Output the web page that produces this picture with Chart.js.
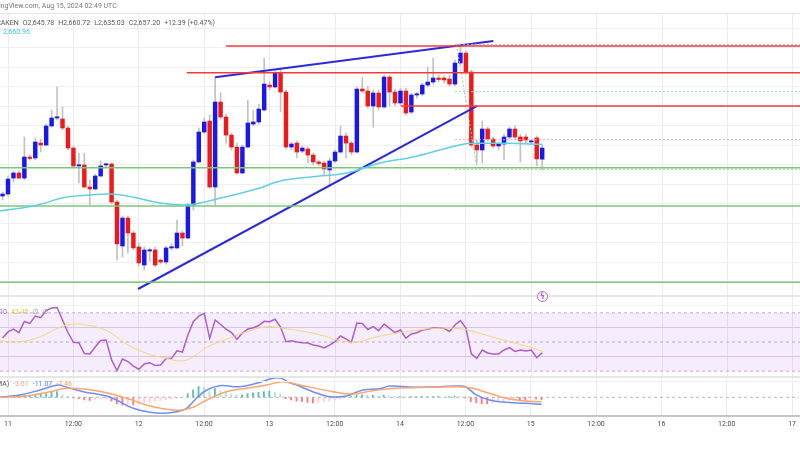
<!DOCTYPE html>
<html>
<head>
<meta charset="utf-8">
<script src="https://cdn.jsdelivr.net/npm/chart.js@4.4.1/dist/chart.umd.min.js"></script>
<style>
  body { margin: 0; background: #fff; }
  #wrap { position: relative; width: 800px; height: 450px; overflow: hidden; background: #fff; font-family: Roboto, "DejaVu Sans", sans-serif; }
  canvas { position: absolute; left: 0; }
  .txt { position: absolute; font-size: 7px; line-height: 7px; white-space: nowrap; color: #555; }
  .txt span { margin-right: 4px; }
  .sep { position: absolute; left: 0; width: 800px; background: #e6e6e6; }
  #bolt { position: absolute; left: 537px; top: 291px; width: 9px; height: 9px; border: 1.4px solid #b563cc; border-radius: 50%; color: #b563cc; font-size: 8px; line-height: 9px; text-align: center; font-weight: bold; background: #fff; }
</style>
</head>
<body>
<div id="wrap">
  <canvas id="price" width="800" height="282" style="top:13px"></canvas>
  <canvas id="rsi" width="800" height="81" style="top:296px"></canvas>
  <canvas id="macd" width="800" height="55" style="top:377px"></canvas>

  <div class="sep" style="top:13px;height:1px"></div>
  <div class="sep" style="top:295px;height:2px"></div>
  <div class="sep" style="top:305px;height:1px;background:#efefef"></div>
  <div class="sep" style="top:376px;height:2px"></div>
  <div class="sep" style="top:381px;height:1px;background:#efefef"></div>

  <div class="txt" style="left:-15px;top:3px;color:#777">TradingView.com, Aug 15, 2024 02:49 UTC</div>
  <div class="txt" style="left:-8px;top:20px"><span>KRAKEN</span><span>O2,645.78</span><span>H2,660.72</span><span>L2,635.03</span><span>C2,657.20</span><span>+12.39 (+0.47%)</span></div>
  <div class="txt" style="left:3px;top:29px;color:#3fc3d6">2,660.96</div>
  <div class="txt" style="left:-1px;top:309px"><span style="color:#b05ec6">10</span><span style="color:#e6c34a">42.45</span><span style="color:#999">∅</span><span style="color:#999">∅</span></div>
  <div class="txt" style="left:-8px;top:381px"><span>EMA)</span><span style="color:#f59a9a">-3.61</span><span style="color:#5a7ff0">-11.07</span><span style="color:#ff9a5c">-7.46</span></div>
  <div id="bolt">ϟ</div>
</div>

<script>
// ETH/USD 1h, Kraken -- hours counted from Aug 11 00:00
const firstHour = -1;
const xMin = -1.47, xMax = 145.3;

const opens = [2608.0, 2610.0, 2626.4, 2631.6, 2626.4, 2648.0, 2647.0, 2662.3, 2660.3, 2679.8,
  2688.0, 2687.0, 2677.7, 2657.2, 2638.8, 2639.8, 2617.2, 2615.2, 2628.5, 2639.8,
  2640.8, 2601.8, 2556.7, 2585.4, 2570.0, 2555.7, 2537.2, 2551.6, 2552.6, 2542.3,
  2540.3, 2554.7, 2554.7, 2570.0, 2564.9, 2598.8, 2642.9, 2673.6, 2684.9, 2617.2,
  2704.4, 2689.0, 2670.5, 2658.2, 2631.6, 2658.2, 2681.8, 2683.9, 2696.2, 2721.8,
  2719.8, 2734.1, 2714.6, 2658.2, 2662.3, 2654.1, 2656.2, 2650.0, 2642.9, 2641.8,
  2634.7, 2643.9, 2653.1, 2669.5, 2662.3, 2653.1, 2717.7, 2715.7, 2700.3, 2713.6,
  2699.3, 2730.0, 2714.6, 2703.4, 2715.7, 2694.1, 2711.6, 2712.6, 2721.8, 2724.9,
  2729.0, 2729.0, 2728.0, 2722.8, 2744.4, 2754.6, 2735.2, 2660.3, 2655.2, 2676.7,
  2666.4, 2659.3, 2661.3, 2668.5, 2676.7, 2668.5, 2668.5, 2663.4, 2667.5, 2645.78];
const highs = [2612.1, 2628.5, 2633.6, 2633.6, 2668.5, 2650.0, 2667.5, 2666.4, 2681.8, 2696.2,
  2719.8, 2699.3, 2679.8, 2659.3, 2652.1, 2652.1, 2624.4, 2630.5, 2643.9, 2641.8,
  2641.8, 2603.9, 2587.5, 2587.5, 2572.1, 2559.8, 2555.7, 2554.7, 2555.7, 2543.4,
  2556.7, 2558.8, 2583.4, 2572.1, 2600.8, 2644.9, 2677.7, 2688.0, 2691.1, 2730.0,
  2713.6, 2692.1, 2672.6, 2662.3, 2660.3, 2706.4, 2696.2, 2702.3, 2749.5, 2724.9,
  2736.2, 2739.3, 2716.7, 2663.4, 2664.4, 2659.3, 2658.2, 2652.1, 2644.9, 2643.9,
  2647.0, 2655.2, 2679.8, 2672.6, 2664.4, 2719.8, 2730.0, 2720.8, 2716.7, 2716.7,
  2732.1, 2732.1, 2717.7, 2718.7, 2718.7, 2713.6, 2714.6, 2723.9, 2740.3, 2749.5,
  2732.1, 2731.1, 2732.1, 2747.5, 2763.9, 2756.7, 2737.2, 2665.4, 2684.9, 2678.7,
  2668.5, 2663.4, 2671.6, 2678.7, 2679.8, 2671.6, 2671.6, 2666.4, 2669.5, 2660.72];
const lows = [2603.9, 2608.0, 2622.3, 2625.4, 2624.4, 2644.9, 2644.9, 2653.1, 2659.3, 2678.7,
  2685.9, 2675.7, 2655.2, 2637.7, 2621.3, 2616.2, 2598.8, 2614.1, 2627.5, 2637.7,
  2599.8, 2542.3, 2545.4, 2549.5, 2552.6, 2536.2, 2532.1, 2541.3, 2535.2, 2538.2,
  2538.2, 2552.6, 2553.6, 2556.7, 2563.9, 2593.6, 2641.8, 2672.6, 2616.2, 2597.7,
  2687.0, 2662.3, 2655.2, 2630.5, 2630.5, 2657.2, 2679.8, 2681.8, 2695.2, 2716.7,
  2718.7, 2694.1, 2656.2, 2655.2, 2647.0, 2652.1, 2641.8, 2639.8, 2638.8, 2629.5,
  2618.2, 2641.8, 2652.1, 2647.0, 2650.0, 2652.1, 2713.6, 2698.2, 2678.7, 2696.2,
  2698.2, 2700.3, 2700.3, 2701.3, 2691.1, 2692.1, 2708.5, 2710.5, 2719.8, 2722.8,
  2724.9, 2723.9, 2720.8, 2720.8, 2742.3, 2733.1, 2658.2, 2641.8, 2641.8, 2664.4,
  2657.2, 2655.2, 2644.9, 2666.4, 2666.4, 2642.9, 2662.3, 2662.3, 2638.8, 2635.03];
const closes = [2610.0, 2625.4, 2631.6, 2626.4, 2648.0, 2646.5, 2663.4, 2660.3, 2679.8, 2688.0,
  2688.5, 2677.7, 2657.2, 2638.8, 2639.8, 2617.2, 2615.2, 2628.5, 2638.8, 2640.8,
  2601.8, 2558.8, 2585.4, 2570.0, 2554.7, 2539.3, 2552.6, 2552.6, 2537.2, 2540.3,
  2554.7, 2555.7, 2570.0, 2564.9, 2598.8, 2642.9, 2673.6, 2683.9, 2617.2, 2704.4,
  2689.0, 2670.5, 2658.2, 2631.6, 2658.2, 2682.9, 2683.9, 2697.2, 2722.8, 2719.8,
  2734.1, 2714.6, 2658.2, 2661.3, 2653.1, 2657.2, 2650.0, 2642.9, 2641.3, 2635.7,
  2643.9, 2653.1, 2669.5, 2662.3, 2653.1, 2717.7, 2715.7, 2700.3, 2713.6, 2699.3,
  2730.0, 2714.6, 2703.4, 2715.7, 2693.1, 2711.6, 2712.6, 2721.8, 2724.9, 2729.0,
  2727.5, 2727.0, 2722.8, 2744.4, 2754.6, 2735.2, 2660.3, 2655.2, 2676.7, 2666.4,
  2659.3, 2661.3, 2668.5, 2676.7, 2668.5, 2664.4, 2665.4, 2664.4, 2646.0, 2657.20];

// moving average on the price pane
const maHours = [-1.5, 4.6, 10.8, 15.0, 18.7, 22.9, 27.9, 32.1, 35.2, 38.3, 41.3, 46.2, 49.9, 56.0, 62.2, 68.3, 74.3, 80.6, 84.2, 86.6, 91.5, 98];
const maValues = [2592.6, 2597.7, 2606.9, 2609.0, 2610.0, 2606.9, 2600.8, 2598.8, 2600.8, 2604.9, 2609.0, 2616.2, 2623.4, 2627.8, 2631.6, 2641.8, 2648.0, 2657.2, 2661.8, 2662.0, 2662.0, 2661.0];

// drawings
const supportLevels = [2637.0, 2597.7, 2519.5];
const resistanceLevels = [2761.8, 2734.4, 2700.3];
const resistanceStart = [40.0, 32.8, 72.05];
const lowerTrend = [[23.85, 2512.6], [86.0, 2700.3]];
const upperTrend = [[38.0, 2729.7], [89.05, 2767.0]];
const fibLevels = [2763.6, 2715.0, 2665.7, 2635.4];
const fibStart = 82;
const fibDiagonal = [[82.3, 2762.8], [86.0, 2638.0]];

// RSI pane
const rsi = [52.7, 56.9, 58.9, 56.4, 64.1, 62.8, 67.8, 66.7, 71.6, 73.3,
  73.7, 65.1, 56.5, 49.8, 49.5, 42.1, 41.8, 46.6, 51.0, 51.4,
  37.7, 30.4, 38.3, 36.6, 33.5, 31.3, 34.9, 35.8, 33.9, 34.2,
  38.7, 38.8, 44.0, 43.1, 54.8, 63.9, 67.8, 69.7, 52.5, 65.1,
  62.0, 58.9, 56.5, 51.9, 56.2, 58.9, 59.8, 61.3, 64.2, 63.9,
  65.6, 60.3, 50.2, 50.8, 50.0, 49.5, 49.3, 47.9, 47.3, 45.9,
  47.9, 50.3, 54.1, 52.1, 49.8, 63.0, 62.7, 58.6, 60.5, 57.8,
  62.3, 59.3, 56.5, 58.2, 52.7, 55.5, 56.4, 58.2, 58.7, 59.6,
  59.6, 59.3, 57.2, 61.7, 64.7, 59.6, 41.8, 38.8, 44.5, 42.5,
  41.8, 41.8, 44.5, 46.1, 43.5, 44.5, 43.8, 44.5, 39.2, 42.5];
const rsiMaHours = [-1.5, 2.2, 5.9, 9.5, 12, 14.4, 18.1, 21.8, 25.4, 29.1, 31.9, 34, 36.5, 40.1, 43.8, 47.5, 50.5, 56, 63.1, 68.3, 74.4, 79.3, 83.5, 89.7, 95.8, 98.2];
const rsiMaValues = [50.7, 50.2, 53.6, 60.1, 62.3, 61.7, 57.8, 48.6, 42.2, 38.8, 37.0, 39.9, 46.4, 51.9, 57.1, 60.5, 59.4, 56.0, 49.8, 54.1, 57.8, 59.4, 58.7, 52.5, 46.4, 43.3];
const rsiBand = [70, 30];
const rsiMid = 50;

// MACD pane
const macdHours = [-1.5, 2.2, 5.9, 9.2, 10.8, 13.8, 18.1, 19.9, 23, 26.1, 28.5, 31, 32.8, 34.6, 36.5, 38.9, 42.6, 45.6, 48.7, 50.2, 51.7, 53, 56, 59.1, 62.1, 65.2, 68.3, 70.1, 74.4, 79.3, 82.9, 84.2, 86, 88.4, 91.5, 95.2, 98];
const macdValues = [0, 3.7, 11.6, 19.5, 15.9, 8.9, 2.1, -4.3, -17.5, -23.8, -25.4, -22.9, -17.5, -1.6, 11.6, 18.4, 16.8, 22.2, 30.2, 30.2, 23.2, 19.5, 8.9, 1.0, 2.1, 11.6, 13.7, 17.9, 15.9, 16.8, 17.9, 15.9, 3.7, -4.3, -7.9, -9.5, -11.07];
const signalHours = [-1.5, 3.4, 7.7, 10.8, 14.4, 18.1, 21.8, 25.4, 29.1, 31.9, 34, 36.5, 40.1, 43.8, 47.5, 50.5, 53.6, 59.7, 63.4, 67, 71.3, 77.4, 82.9, 85.4, 88.4, 91.5, 94.6, 98];
const signalValues = [0, 2.1, 8.9, 14.3, 12.7, 7.3, -1.6, -12.2, -19.0, -20.2, -15.9, -4.3, 8.9, 14.3, 19.5, 24.8, 19.5, 8.9, 5.2, 10.5, 14.3, 15.9, 16.8, 14.3, 6.3, -1.6, -5.4, -7.46];
const histogram = [0.5, 1, 1.5, 2, 3, 3.5, 4, 5, 6, 8,
  9, 4, 1, -1, -2, -4, -5, -4, -3, -2,
  -6, -10, -12, -11, -12, -10, -9, -8, -6, -5,
  -4, -3, -2, 0, 6, 12, 17, 16, 9, 14,
  10, 8, 5, 3, 4, 6, 7, 8, 9, 10,
  8, 6, -2, -4, -6, -7, -8, -9, -8, -7,
  -6, -5, -3, -1, 1, 3, 4, 3, 3, 2,
  3, 2, 1, 1, 0, 1, 1, 1, 1, 1,
  1, 0, 1, 2, 1, -1, -7, -9, -10, -10,
  -9, -7, -6, -5, -4, -4, -4, -3, -3, -3.61];

// x axis
const tickHours = [0, 12, 24, 36, 48, 60, 72, 84, 96, 108, 120, 132, 144];
const tickLabels = ['11', '12:00', '12', '12:00', '13', '12:00', '14', '12:00', '15', '12:00', '16', '12:00', '17'];
const gridPrices = [2520, 2540, 2560, 2580, 2600, 2620, 2640, 2660, 2680, 2700, 2720, 2740, 2760, 2780];

const candleHours = opens.map((_, i) => firstHour + i);
const UP = '#1818ea', DOWN = '#ee1a1a';

function xScale(showLabels) {
  return {
    type: 'linear', min: xMin, max: xMax, offset: false,
    grid: { color: '#ececec', lineWidth: 1, drawTicks: false, offset: false },
    border: showLabels ? { display: true, color: '#c6c6c6', width: 2 } : { display: false },
    ticks: {
      display: showLabels, autoSkip: false, maxRotation: 0, padding: 4,
      color: '#4a4a4a', font: { size: 7, family: 'Roboto' },
      callback: (v, i) => tickLabels[i]
    },
    afterBuildTicks: axis => { axis.ticks = tickHours.map(v => ({ value: v })); },
    afterFit: axis => { axis.height = showLabels ? 16 : 0; }
  };
}

function yScale(min, max, levels, gridColor) {
  return {
    type: 'linear', min: min, max: max, position: 'left',
    grid: { color: gridColor, drawTicks: false },
    border: { display: false },
    ticks: { display: false },
    afterBuildTicks: axis => { axis.ticks = levels.map(v => ({ value: v })); },
    afterFit: axis => { axis.width = 0; }
  };
}

function line(points, color, width, dash, tension) {
  return {
    type: 'line', data: points.map(p => ({ x: p[0], y: p[1] })),
    borderColor: color, borderWidth: width, borderDash: dash || [],
    pointRadius: 0, fill: false, tension: tension || 0, order: 0
  };
}

function pairs(xs, ys) { return xs.map((x, i) => [x, ys[i]]); }

const baseOptions = {
  responsive: false, animation: false, devicePixelRatio: 1, events: [],
  layout: { padding: 0 },
  plugins: { legend: { display: false }, tooltip: { enabled: false } }
};

// ---- price pane ----
const priceSets = [
  {
    type: 'bar', label: 'wick', grouped: false, order: 3,
    data: candleHours.map((h, i) => ({ x: h, y: [lows[i], highs[i]] })),
    backgroundColor: '#c2c2c2', barThickness: 1
  },
  {
    type: 'bar', label: 'body', grouped: false, order: 2,
    data: candleHours.map((h, i) => ({ x: h, y: [opens[i], closes[i]] })),
    backgroundColor: candleHours.map((h, i) => closes[i] >= opens[i] ? UP : DOWN),
    barThickness: 3.8, minBarLength: 1.2
  },
  line(pairs(maHours, maValues), '#5fd0e2', 1.5, [], 0.4)
];
supportLevels.forEach(v => priceSets.push(line([[xMin, v], [xMax + 2, v]], '#7cc67c', 1.6)));
resistanceLevels.forEach((v, i) => priceSets.push(line([[resistanceStart[i], v], [xMax + 2, v]], '#f23a3a', 1.5)));
const fibColors = ['#a9b8de', '#93d8cc', '#f3a3a3', '#b8b8b8'];
fibLevels.forEach((v, i) => priceSets.push(line([[fibStart, v], [xMax + 2, v]], fibColors[i], 1, [2, 2])));
priceSets.push(line(fibDiagonal, '#b8b8b8', 1, [2, 2]));
priceSets.push(line(lowerTrend, '#2a2ad8', 2));
priceSets.push(line(upperTrend, '#2a2ad8', 2));

new Chart(document.getElementById('price'), {
  type: 'bar',
  data: { datasets: priceSets },
  options: Object.assign({}, baseOptions, {
    scales: { x: xScale(false), y: yScale(2506.45, 2795.7, gridPrices, '#efefef') }
  })
});

// ---- RSI pane ----
new Chart(document.getElementById('rsi'), {
  type: 'line',
  data: {
    datasets: [
      Object.assign(line([[xMin, rsiBand[0]], [xMax, rsiBand[0]]], '#bfb2cc', 1, [3, 3]), { fill: '+1', backgroundColor: 'rgba(160,80,230,0.11)', order: 2 }),
      Object.assign(line([[xMin, rsiBand[1]], [xMax, rsiBand[1]]], '#bfb2cc', 1, [3, 3]), { order: 2 }),
      Object.assign(line([[xMin, rsiMid], [xMax, rsiMid]], '#bfb2cc', 1, [3, 3]), { order: 2 }),
      line(pairs(rsiMaHours, rsiMaValues), '#f4d67a', 1, [], 0.4),
      line(pairs(candleHours, rsi), '#b05ec6', 1.5)
    ]
  },
  options: Object.assign({}, baseOptions, {
    scales: { x: xScale(false), y: yScale(25.99, 81.55, [40, 60], '#ddd3ea') }
  })
});

// ---- MACD pane ----
new Chart(document.getElementById('macd'), {
  type: 'bar',
  data: {
    datasets: [
      {
        type: 'bar', grouped: false, order: 3,
        data: candleHours.map((h, i) => ({ x: h, y: histogram[i] })),
        backgroundColor: histogram.map((v, i) => {
          const prev = i > 0 ? histogram[i - 1] : 0;
          if (v >= 0) return v >= prev ? '#5cbfb3' : '#b2dfdb';
          return v <= prev ? '#ff7a7a' : '#ffcdd2';
        }),
        barThickness: 1.2
      },
      Object.assign(line([[xMin, 0], [xMax, 0]], '#b4b4b4', 1, [3, 3]), { order: 2 }),
      line(pairs(signalHours, signalValues), '#ffa46e', 1.5, [], 0.4),
      line(pairs(macdHours, macdValues), '#6d8ef2', 1.5, [], 0.4)
    ]
  },
  options: Object.assign({}, baseOptions, {
    scales: { x: xScale(true), y: yScale(-29.68, 32.2, [], '#ececec') }
  })
});
</script>
</body>
</html>
